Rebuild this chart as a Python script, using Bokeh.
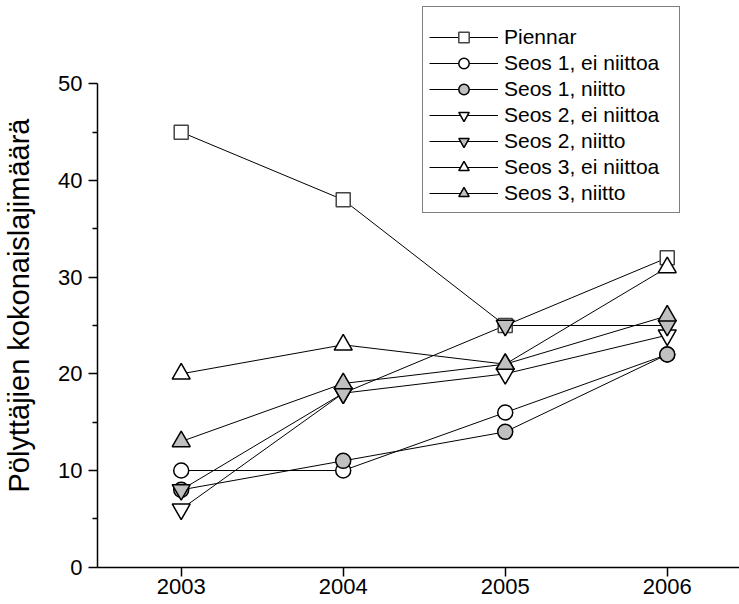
import math
from bokeh.plotting import figure
from bokeh.models import Range1d, FixedTicker, Legend, LegendItem, Label
from bokeh.embed import file_html
from bokeh.resources import INLINE

years = [2003, 2004, 2005, 2006]
series_names = ["Piennar", "Seos 1, ei niittoa", "Seos 1, niitto",
                "Seos 2, ei niittoa", "Seos 2, niitto",
                "Seos 3, ei niittoa", "Seos 3, niitto"]
piennar = [45, 38, 25, 32]
seos1_ei = [10, 10, 16, 22]
seos1_n = [8, 11, 14, 22]
seos2_ei = [6, 18, 20, 24]
seos2_n = [8, 18, 25, 25]
seos3_ei = [20, 23, 21, 31]
seos3_n = [13, 19, 21, 26]
y_ticks = [0, 10, 20, 30, 40, 50]
y_minor = [5, 15, 25, 35, 45]
y_label = "Pölyttäjien kokonaislajimäärä"

values = [piennar, seos1_ei, seos1_n, seos2_ei, seos2_n, seos3_ei, seos3_n]
markers = ["square", "circle", "circle", "inverted_triangle", "inverted_triangle",
           "triangle", "triangle"]
fills = ["white", "white", "#c0c0c0", "white", "#c0c0c0", "white", "#c0c0c0"]
sizes = [14, 15, 15, 18, 18, 18, 18]
outlines = ["#444444", "black", "black", "black", "black", "black", "black"]

FONT = "Liberation Sans"

# axis origin (left end of x axis) in data units
X0 = 2002.483
p = figure(width=739, height=604, output_backend="svg", toolbar_location=None,
           x_range=Range1d(2001.8846, 2006.446), y_range=Range1d(-3.858, 58.616),
           min_border_left=0, min_border_right=0, min_border_top=0,
           min_border_bottom=0)
p.outline_line_color = None
p.xgrid.visible = False
p.ygrid.visible = False
p.background_fill_color = "white"
p.border_fill_color = "white"

lines = []
for v in values:
    lines.append(p.line(years, v, line_color="black", line_width=1))
scats = []
for v, m, f, s, oc in zip(values, markers, fills, sizes, outlines):
    scats.append(p.scatter(years, v, marker=m, size=s, fill_color=f,
                           line_color=oc, line_width=1.5))

items = [LegendItem(label=n, renderers=[l, s]) for n, l, s in zip(series_names, lines, scats)]
legend = Legend(items=items, location=(422, 391), orientation="vertical",
                title=" ", title_text_font_size="1px", title_standoff=10,
                label_text_font=FONT, label_text_font_size="21px",
                label_text_color="black",
                glyph_width=69, glyph_height=26, label_height=26, label_width=169,
                label_standoff=6, spacing=0, padding=6, margin=0,
                border_line_color="black", border_line_width=1,
                background_fill_color="white", background_fill_alpha=1)
p.add_layout(legend, "center")

xa = p.xaxis[0]
xa.fixed_location = 0
xa.bounds = (X0, 2006.446)
xa.ticker = FixedTicker(ticks=years)
xa.major_label_text_font = FONT
xa.major_label_text_font_size = "22px"
xa.major_label_text_color = "black"
xa.major_tick_out = 9
xa.major_tick_in = 0
xa.minor_tick_out = 0
xa.minor_tick_in = 0
xa.major_label_standoff = 3
xa.axis_line_width = 1.5
xa.major_tick_line_width = 1.5

ya = p.yaxis[0]
ya.fixed_location = X0
ya.ticker = FixedTicker(ticks=y_ticks, minor_ticks=y_minor)
ya.bounds = (0, 50)
ya.major_label_text_font = FONT
ya.major_label_text_font_size = "22px"
ya.major_label_text_color = "black"
ya.major_tick_out = 9
ya.major_tick_in = 0
ya.minor_tick_out = 5
ya.minor_tick_in = 0
ya.major_label_standoff = 6
ya.axis_line_width = 1.5
ya.major_tick_line_width = 1.5
ya.minor_tick_line_width = 1.5

lab = Label(x=18, y=299, x_units="screen", y_units="screen", text=y_label,
            angle=math.pi / 2, text_align="center", text_baseline="alphabetic",
            text_font=FONT, text_font_size="29px", text_color="black")
p.add_layout(lab)

open("out.html", "w").write(file_html(p, INLINE))
